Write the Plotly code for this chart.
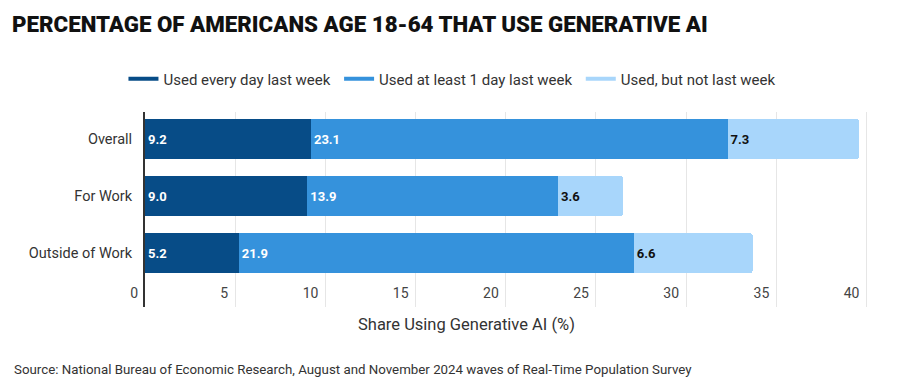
import plotly.graph_objects as go

categories = ["Overall", "For Work", "Outside of Work"]
series_names = ["Used every day last week", "Used at least 1 day last week", "Used, but not last week"]
every_day = [9.2, 9.0, 5.2]
at_least_1_day = [23.1, 13.9, 21.9]
not_last_week = [7.3, 3.6, 6.6]
x_ticks = [0, 5, 10, 15, 20, 25, 30, 35, 40]

colors = ["#074c87", "#3592dc", "#a8d6fb"]
text_colors = ["white", "white", "#111111"]
FONT = "Roboto"
NB = "\u00a0"

fig = go.Figure()
for i, (name, vals, col, tcol) in enumerate(zip(series_names, [every_day, at_least_1_day, not_last_week], colors, text_colors)):
    fig.add_trace(go.Bar(
        y=categories, x=vals, orientation="h", name=name,
        marker=dict(color=col, line=dict(width=0)),
        texttemplate="%{x:.1f}", textposition="inside", insidetextanchor="start",
        textfont=dict(family=FONT, size=13, color=tcol, weight="bold"),
        constraintext="none", showlegend=False, hoverinfo="skip",
    ))
    legend_name = name + (NB if i < len(series_names) - 1 else "")
    fig.add_trace(go.Scatter(
        x=[None], y=[None], mode="lines", name=legend_name,
        line=dict(color=col, width=4), showlegend=True,
    ))

fig.update_layout(
    width=897, height=374,
    barmode="stack", bargap=0.3, barcornerradius=3,
    paper_bgcolor="white", plot_bgcolor="white",
    margin=dict(l=137, r=35, t=104, b=75),
    font=dict(family=FONT, color="#333333"),
    title=dict(text="PERCENTAGE OF AMERICANS AGE 18-64 THAT USE GENERATIVE AI",
               x=0.0045, xanchor="left", y=0.957, yanchor="middle",
               font=dict(family=FONT, size=22.3, color="#111111", weight=900)),
    legend=dict(orientation="h", xref="container", x=0.4955, xanchor="center",
                yref="container", y=0.81, yanchor="middle",
                font=dict(family=FONT, size=15, color="#333333"),
                itemwidth=30, traceorder="normal"),
    xaxis=dict(range=[0, 40.2], tickvals=x_ticks, ticktext=[f"{v}{NB}{NB}" for v in x_ticks],
               showgrid=True, gridcolor="#e6e6e6", gridwidth=1, zeroline=False,
               ticks="", ticklabelposition="inside left", ticklabeloverflow="allow",
               tickfont=dict(family=FONT, size=14, color="#444444"), showline=False),
    yaxis=dict(categoryorder="array", categoryarray=categories,
               range=[2.947, -0.474], showgrid=False, zeroline=False,
               showline=True, linecolor="#333333", linewidth=2,
               ticks="", ticklabelstandoff=8,
               tickfont=dict(family=FONT, size=14.5, color="#333333")),
    annotations=[
        dict(text="Share Using Generative AI (%)", xref="paper", yref="paper",
             x=0.443, y=-0.0872, xanchor="center", yanchor="middle", showarrow=False,
             font=dict(family=FONT, size=16.5, color="#333333")),
        dict(text="Source: National Bureau of Economic Research, August and November 2024 waves of Real-Time Population Survey",
             xref="paper", yref="paper", x=-0.1834, y=-0.318, xanchor="left", yanchor="middle",
             showarrow=False, font=dict(family=FONT, size=13.3, color="#333333")),
    ],
)

fig.write_html("out.html")
